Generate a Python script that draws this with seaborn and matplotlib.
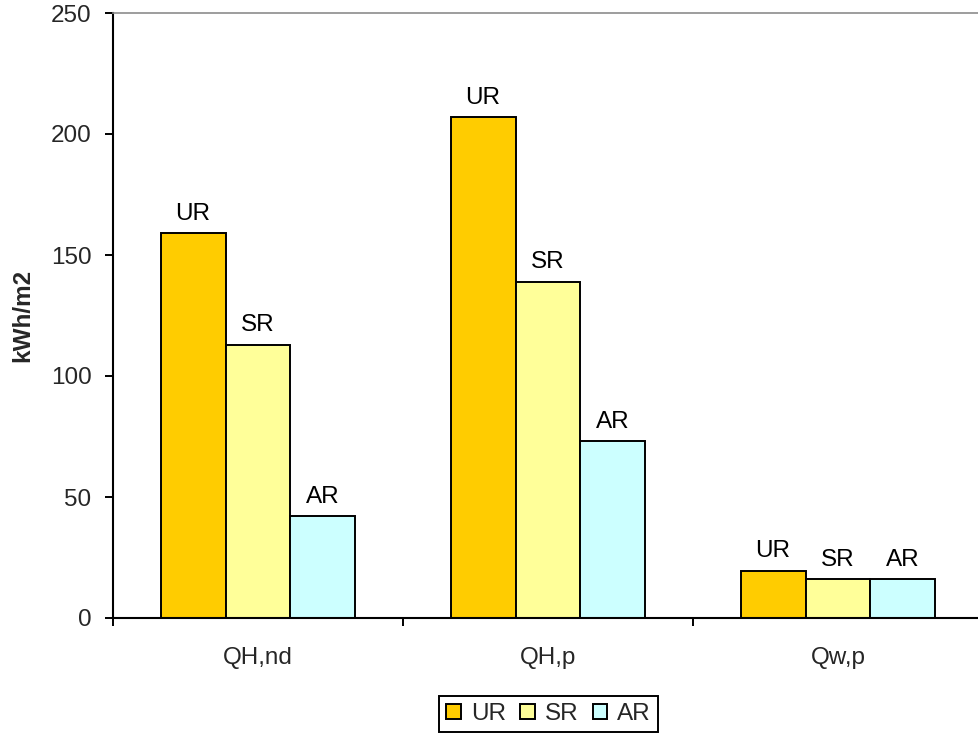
import matplotlib
matplotlib.use("Agg")
import matplotlib.pyplot as plt
from matplotlib.patches import Patch
from matplotlib.ticker import FixedLocator
import pandas as pd
import seaborn as sns

# Energy demand per heated floor area for three renovation variants
categories = ["QH,nd", "QH,p", "Qw,p"]
series = ["UR", "SR", "AR"]
ur_values = [159, 207, 19.5]
sr_values = [113, 139, 16]
ar_values = [42, 73, 16]
y_ticks = [0, 50, 100, 150, 200, 250]
colors = {"UR": "#FFCC00", "SR": "#FFFF99", "AR": "#CCFFFF"}

df = pd.DataFrame({
    "category": categories * 3,
    "series": ["UR"] * 3 + ["SR"] * 3 + ["AR"] * 3,
    "value": ur_values + sr_values + ar_values,
})

sns.set_theme(style="white")
plt.rcParams["font.family"] = ["Liberation Sans", "DejaVu Sans"]

fs = 17.5
fig = plt.figure(figsize=(9.79, 7.35), dpi=100)
ax = fig.add_axes([113 / 979, 117 / 735, 870 / 979, 605 / 735])

sns.barplot(
    data=df, x="category", y="value", hue="series",
    order=categories, hue_order=series, palette=colors,
    saturation=1, width=0.672, gap=0, errorbar=None,
    edgecolor="black", linewidth=1.4, legend=False, ax=ax,
)

# series name above each bar
for cont, name in zip(ax.containers, series):
    ax.bar_label(cont, labels=[name] * len(cont), padding=6, fontsize=fs, color="black")

ax.set_ylim(0, 250)
ax.set_xlim(-0.5, len(categories) - 0.5)
ax.set_yticks(y_ticks)
ax.set_yticklabels([str(t) for t in y_ticks], fontsize=fs)
ax.set_xlabel("")
ax.set_ylabel("kWh/m2", fontsize=fs, fontweight="bold")
ax.yaxis.set_label_coords(-79 / 870, 0.5)

# category boundaries carry the x tick marks
ax.xaxis.set_minor_locator(FixedLocator([i - 0.5 for i in range(len(categories) + 1)]))
ax.tick_params(axis="x", which="major", length=0, pad=21, labelsize=fs)
ax.tick_params(axis="x", which="minor", direction="out", length=5.5, width=1.4, color="black", bottom=True)
ax.tick_params(axis="y", which="major", direction="out", length=5.5, width=1.4, color="black", left=True, pad=10)

for s in ["left", "bottom"]:
    ax.spines[s].set_color("black")
    ax.spines[s].set_linewidth(1.5)
ax.spines["top"].set_color("#8c8c8c")
ax.spines["top"].set_linewidth(1.2)
ax.spines["right"].set_visible(False)
ax.grid(False)

handles = [Patch(facecolor=colors[s], edgecolor="black", linewidth=1.4, label=s) for s in series]
leg = fig.legend(
    handles=handles, loc="center", bbox_to_anchor=(548.5 / 979, 1 - 714 / 735),
    ncol=3, fontsize=fs, frameon=True, fancybox=False, framealpha=1,
    edgecolor="black", handlelength=0.6, handleheight=0.6,
    handletextpad=0.4, columnspacing=0.6, borderpad=0.3,
)
leg.get_frame().set_linewidth(1.4)

fig.savefig("out.png", dpi=100)
